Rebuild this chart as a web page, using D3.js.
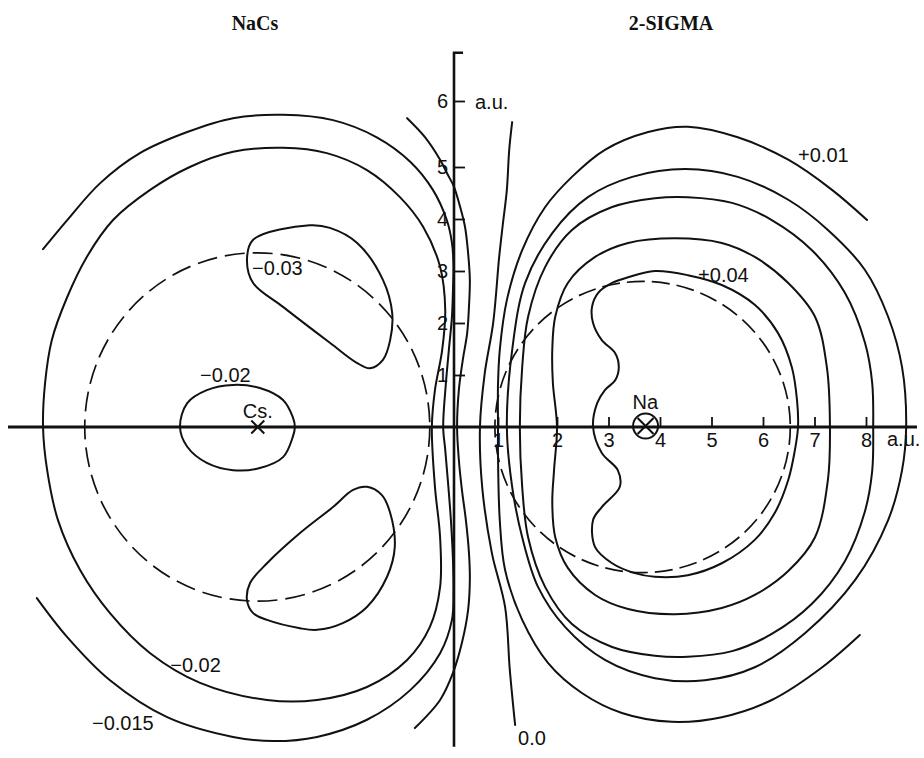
<!DOCTYPE html>
<html>
<head>
<meta charset="utf-8">
<script src="https://cdn.jsdelivr.net/npm/d3@7"></script>
<style>
  html, body { margin: 0; padding: 0; background: #fff; }
  svg { display: block; }
  .lbl { font-family: "Liberation Sans", Arial, sans-serif; font-size: 20px; fill: #111; }
  .title { font-family: "Liberation Serif", "DejaVu Serif", serif; font-weight: bold; font-size: 20px; fill: #111; }
</style>
</head>
<body>
<svg id="chart" width="924" height="758"></svg>
<script>
// NaCs, 2-sigma orbital: contour lines of the orbital amplitude in the
// molecular plane. Coordinates are in atomic units (a.u.), Cs on the left,
// Na on the right of the origin.

const xTicks = [1, 2, 3, 4, 5, 6, 7, 8];
const yTicks = [1, 2, 3, 4, 5, 6];

const atomNames = ["Cs.", "Na"];
const atomX = [-3.81, 3.72];

// dashed reference circles around the two nuclei
const circleCenters = [-3.82, 3.73];
const circleRadii = [3.35, 2.8];

// contour levels, one line each
const contourLevels = ["-0.03", "-0.03", "-0.02", "-0.02", "-0.015", "-0.01", "0.0",
                       "+0.01", "+0.015", "+0.02", "+0.03", "+0.04"];
const contourClosed = [true, true, true, true, false, false, false, false, true, true, true, true];

const minus003Upper = [[-2.80,3.88],[-3.90,3.60],[-4.02,3.21],[-3.90,2.77],[-3.32,2.31],[-2.41,1.62],
  [-1.88,1.23],[-1.63,1.13],[-1.38,1.29],[-1.24,1.67],[-1.20,2.19],[-1.38,2.83],[-1.88,3.54],[-2.41,3.83]];

const minus003Lower = [[-1.69,-1.15],[-1.96,-1.21],[-2.35,-1.54],[-2.99,-2.04],[-3.63,-2.62],[-3.96,-3.00],
  [-4.02,-3.33],[-3.90,-3.58],[-3.63,-3.71],[-2.99,-3.87],[-2.66,-3.90],[-2.16,-3.77],[-1.69,-3.46],
  [-1.30,-2.88],[-1.15,-2.31],[-1.24,-1.65],[-1.40,-1.31]];

const minus002Inner = [[-5.32,0],[-5.18,0.46],[-4.80,0.71],[-4.29,0.81],[-3.77,0.75],[-3.32,0.52],[-3.13,0.19],
  [-3.09,0],[-3.13,-0.19],[-3.32,-0.58],[-3.77,-0.79],[-4.29,-0.83],[-4.80,-0.69],[-5.18,-0.38]];

const minus002Outer = [[-7.98,0],[-7.94,0.85],[-7.81,1.67],[-7.51,2.50],[-7.13,3.27],[-6.62,3.98],[-5.90,4.56],
  [-5.13,5.00],[-4.29,5.23],[-3.32,5.29],[-2.47,5.21],[-1.69,4.94],[-1.05,4.42],[-0.60,3.85],[-0.27,3.08],
  [-0.17,2.25],[-0.23,1.48],[-0.37,0.71],[-0.43,0],[-0.37,-1.15],[-0.27,-2.12],[-0.27,-3.08],[-0.47,-3.85],
  [-0.91,-4.48],[-1.69,-5.00],[-2.66,-5.25],[-3.63,-5.25],[-4.93,-4.92],[-5.90,-4.35],[-6.68,-3.58],
  [-7.26,-2.75],[-7.69,-1.79],[-7.90,-0.83]];

const minus0015 = [[-7.98,3.42],[-7.51,3.98],[-6.87,4.69],[-6.10,5.21],[-5.18,5.53],[-4.29,5.74],[-3.32,5.79],
  [-2.35,5.71],[-1.50,5.45],[-0.85,5.08],[-0.41,4.56],[-0.14,3.98],[-0.04,3.54],[-0.01,3.12],[-0.02,2.63],
  [-0.04,2.12],[-0.10,1.48],[-0.16,0.81],[-0.21,0],[-0.17,-0.44],[-0.12,-1.02],[-0.06,-1.79],[-0.02,-2.56],
  [-0.01,-3.13],[-0.04,-3.71],[-0.27,-4.35],[-0.85,-5.06],[-1.69,-5.63],[-2.66,-5.96],[-3.51,-6.04],
  [-4.29,-5.96],[-5.57,-5.58],[-6.68,-4.87],[-7.51,-4.04],[-8.10,-3.29]];

const minus001 = [[-0.91,5.74],[-0.56,5.45],[-0.27,5.11],[-0.12,4.85],[0.00,4.62],[0.14,4.23],[0.25,3.85],
  [0.32,3.35],[0.36,2.83],[0.34,2.31],[0.30,1.81],[0.20,1.29],[0.11,0.71],[0.07,0],[0.11,-0.63],[0.18,-1.21],
  [0.27,-1.79],[0.34,-2.42],[0.36,-2.94],[0.32,-3.52],[0.18,-4.15],[-0.02,-4.73],[-0.27,-5.25],[-0.76,-5.79]];

const zeroLine = [[1.24,5.68],[1.19,5.26],[1.15,4.56],[1.08,3.88],[1.02,3.27],[0.89,2.00],[0.70,1.04],
  [0.59,0],[0.64,-1.15],[0.86,-2.42],[1.12,-3.46],[1.20,-4.67],[1.29,-5.73]];

const plus001 = [[8.02,3.98],[7.34,4.56],[6.49,5.11],[5.51,5.45],[4.54,5.61],[3.77,5.53],[2.93,5.26],
  [2.29,4.81],[1.80,4.23],[1.41,3.40],[1.15,2.44],[1.03,1.48],[1.00,0.81],[1.00,0],[1.00,-0.54],[1.03,-1.79],
  [1.12,-2.75],[1.41,-3.71],[1.85,-4.54],[2.49,-5.12],[3.26,-5.50],[4.23,-5.67],[5.20,-5.58],[6.17,-5.25],
  [7.15,-4.62],[7.88,-4.00]];

const plus0015 = [[1.15,0],[1.24,1.48],[1.46,2.77],[1.92,3.73],[2.60,4.42],[3.46,4.81],[4.49,4.96],
  [5.51,4.81],[6.49,4.37],[7.26,3.79],[7.98,3.02],[8.43,2.12],[8.70,1.15],[8.78,0],[8.70,-0.83],[8.43,-1.79],
  [7.79,-2.94],[6.82,-3.96],[5.84,-4.62],[4.87,-4.87],[3.90,-4.83],[2.93,-4.48],[2.16,-3.85],[1.68,-3.08],
  [1.41,-2.12],[1.24,-1.15]];

const plus002 = [[1.37,0],[1.41,1.15],[1.51,2.12],[1.80,3.08],[2.29,3.79],[3.07,4.23],[3.90,4.40],
  [4.54,4.42],[5.40,4.31],[6.17,3.98],[6.95,3.40],[7.59,2.58],[7.98,1.62],[8.12,0.85],[8.14,0],[8.12,-0.85],
  [7.98,-1.62],[7.59,-2.58],[6.95,-3.40],[6.17,-3.98],[5.40,-4.31],[4.54,-4.42],[3.90,-4.40],[3.07,-4.23],
  [2.29,-3.79],[1.80,-3.08],[1.51,-2.12],[1.41,-1.15]];

const plus003 = [[2.00,0],[1.93,0.85],[1.92,1.48],[1.97,2.12],[2.21,2.77],[2.74,3.27],[3.38,3.54],
  [4.29,3.63],[5.20,3.54],[5.84,3.27],[6.49,2.77],[7.01,2.12],[7.24,1.15],[7.30,0],[7.26,-1.02],[7.01,-2.12],
  [6.49,-2.77],[5.84,-3.23],[5.20,-3.48],[4.29,-3.60],[3.38,-3.50],[2.74,-3.23],[2.21,-2.71],[1.97,-2.12],
  [1.92,-1.46],[1.95,-0.83]];

const plus004 = [[2.70,0],[2.78,0.46],[2.93,0.71],[3.13,0.90],[3.20,1.15],[3.13,1.42],[2.87,1.67],
  [2.70,2.00],[2.68,2.31],[2.80,2.58],[3.07,2.77],[3.38,2.88],[3.90,3.00],[4.54,2.92],[5.20,2.73],
  [5.84,2.35],[6.29,1.81],[6.56,1.15],[6.66,0.52],[6.68,0],[6.62,-0.44],[6.49,-1.02],[6.23,-1.65],
  [5.84,-2.17],[5.20,-2.62],[4.54,-2.85],[3.90,-2.88],[3.51,-2.81],[3.07,-2.62],[2.74,-2.31],[2.70,-1.79],
  [2.87,-1.54],[3.22,-1.15],[3.18,-0.83],[2.87,-0.50]];

const contourLines = [minus003Upper, minus003Lower, minus002Inner, minus002Outer, minus0015, minus001,
  zeroLine, plus001, plus0015, plus002, plus003, plus004];

// ---------------------------------------------------------------------------

const svg = d3.select("#chart");

// hand-ruled axes: the first unit on the x axis and the last one on the
// y axis are drawn with their own spacing
const x = d3.scaleLinear()
  .domain([-9, 0, 1, 2, 9])
  .range([454 - 9 * 51.5, 454, 498, 557, 557 + 7 * 51.5]);
const y = d3.scaleLinear()
  .domain([-7, 0, 5, 6])
  .range([427 + 7 * 52, 427, 167, 101]);

const ink = "#111";

// titles
svg.append("text").attr("class", "title").attr("x", 255).attr("y", 30)
  .attr("text-anchor", "middle").text("NaCs");
svg.append("text").attr("class", "title").attr("x", 671).attr("y", 30)
  .attr("text-anchor", "middle").text("2-SIGMA");

// dashed circles
const g = svg.append("g");
const circleDash = ["20,8", "18,7"];
circleCenters.forEach((c, i) => {
  const r = circleRadii[i];
  g.append("ellipse")
    .attr("cx", (x(c - r) + x(c + r)) / 2)
    .attr("cy", y(0))
    .attr("rx", (x(c + r) - x(c - r)) / 2)
    .attr("ry", (y(-r) - y(r)) / 2)
    .attr("fill", "none")
    .attr("stroke", ink)
    .attr("stroke-width", 1.7)
    .attr("stroke-dasharray", circleDash[i]);
});

// contour lines
const openLine = d3.line().x(d => x(d[0])).y(d => y(d[1])).curve(d3.curveCatmullRom.alpha(0.5));
const closedLine = d3.line().x(d => x(d[0])).y(d => y(d[1])).curve(d3.curveCatmullRomClosed.alpha(0.5));

g.selectAll("path.contour")
  .data(contourLines)
  .join("path")
  .attr("class", "contour")
  .attr("data-level", (d, i) => contourLevels[i])
  .attr("d", (d, i) => (contourClosed[i] ? closedLine : openLine)(d))
  .attr("fill", "none")
  .attr("stroke", ink)
  .attr("stroke-width", 2)
  .attr("stroke-linejoin", "round")
  .attr("stroke-linecap", "round");

// axes
const axisExtent = { xMin: -8.66, xMax: 8.99, yMin: -6.15, yMax: 6.73 };

svg.append("line")
  .attr("x1", x(axisExtent.xMin)).attr("x2", x(axisExtent.xMax))
  .attr("y1", y(0)).attr("y2", y(0))
  .attr("stroke", ink).attr("stroke-width", 3);
svg.append("path")
  .attr("d", `M${x(0)},${y(axisExtent.yMin)} L${x(0)},${y(axisExtent.yMax)} L${x(0) + 9},${y(axisExtent.yMax)}`)
  .attr("fill", "none").attr("stroke", ink).attr("stroke-width", 2.6);

const xAxis = svg.append("g")
  .attr("transform", `translate(0,${y(0)})`)
  .call(d3.axisBottom(x).tickValues(xTicks).tickSize(-10).tickPadding(6).tickFormat(d3.format("d")));
const yAxis = svg.append("g")
  .attr("transform", `translate(${x(0)},0)`)
  .call(d3.axisLeft(y).tickValues(yTicks).tickSize(-11).tickPadding(6).tickFormat(d3.format("d")));

[xAxis, yAxis].forEach(a => {
  a.select(".domain").remove();
  a.selectAll(".tick line").attr("stroke", ink).attr("stroke-width", 1.8);
  a.selectAll(".tick text").attr("class", "lbl").attr("fill", ink)
    .style("font-family", '"Liberation Sans", Arial, sans-serif').style("font-size", "20px");
});

// unit labels
svg.append("text").attr("class", "lbl").attr("x", x(axisExtent.xMax) - 30).attr("y", y(0) + 19).text("a.u.");
svg.append("text").attr("class", "lbl").attr("x", x(0) + 21).attr("y", y(6) + 8).text("a.u.");

// nuclei
const cs = { x: x(atomX[0]), y: y(0) };
svg.append("path")
  .attr("d", `M${cs.x - 6.5},${cs.y - 6.5}L${cs.x + 6.5},${cs.y + 6.5}M${cs.x - 6.5},${cs.y + 6.5}L${cs.x + 6.5},${cs.y - 6.5}`)
  .attr("stroke", ink).attr("stroke-width", 2);
svg.append("text").attr("class", "lbl").attr("x", cs.x - 15).attr("y", cs.y - 9).text(atomNames[0]);

const na = { x: x(atomX[1]), y: y(0) - 1 };
svg.append("circle").attr("cx", na.x).attr("cy", na.y).attr("r", 12.5)
  .attr("fill", "none").attr("stroke", ink).attr("stroke-width", 2);
svg.append("path")
  .attr("d", `M${na.x - 8},${na.y - 8}L${na.x + 8},${na.y + 8}M${na.x - 8},${na.y + 8}L${na.x + 8},${na.y - 8}`)
  .attr("stroke", ink).attr("stroke-width", 2);
svg.append("text").attr("class", "lbl").attr("x", na.x - 13).attr("y", na.y - 17).text(atomNames[1]);

// contour value labels (anchor = start of baseline, in a.u.)
const contourLabels = [
  { text: "\u22120.03", at: [-3.92, 2.92] },
  { text: "\u22120.02", at: [-4.93, 0.87] },
  { text: "\u22120.02", at: [-5.51, -4.71] },
  { text: "\u22120.015", at: [-7.03, -5.83] },
  { text: "0.0", at: [1.34, -6.12] },
  { text: "+0.01", at: [6.68, 5.08] },
  { text: "+0.04", at: [4.74, 2.79] }
];
svg.selectAll("text.clabel")
  .data(contourLabels)
  .join("text")
  .attr("class", "lbl clabel")
  .attr("x", d => x(d.at[0]))
  .attr("y", d => y(d.at[1]))
  .text(d => d.text);
</script>
</body>
</html>
